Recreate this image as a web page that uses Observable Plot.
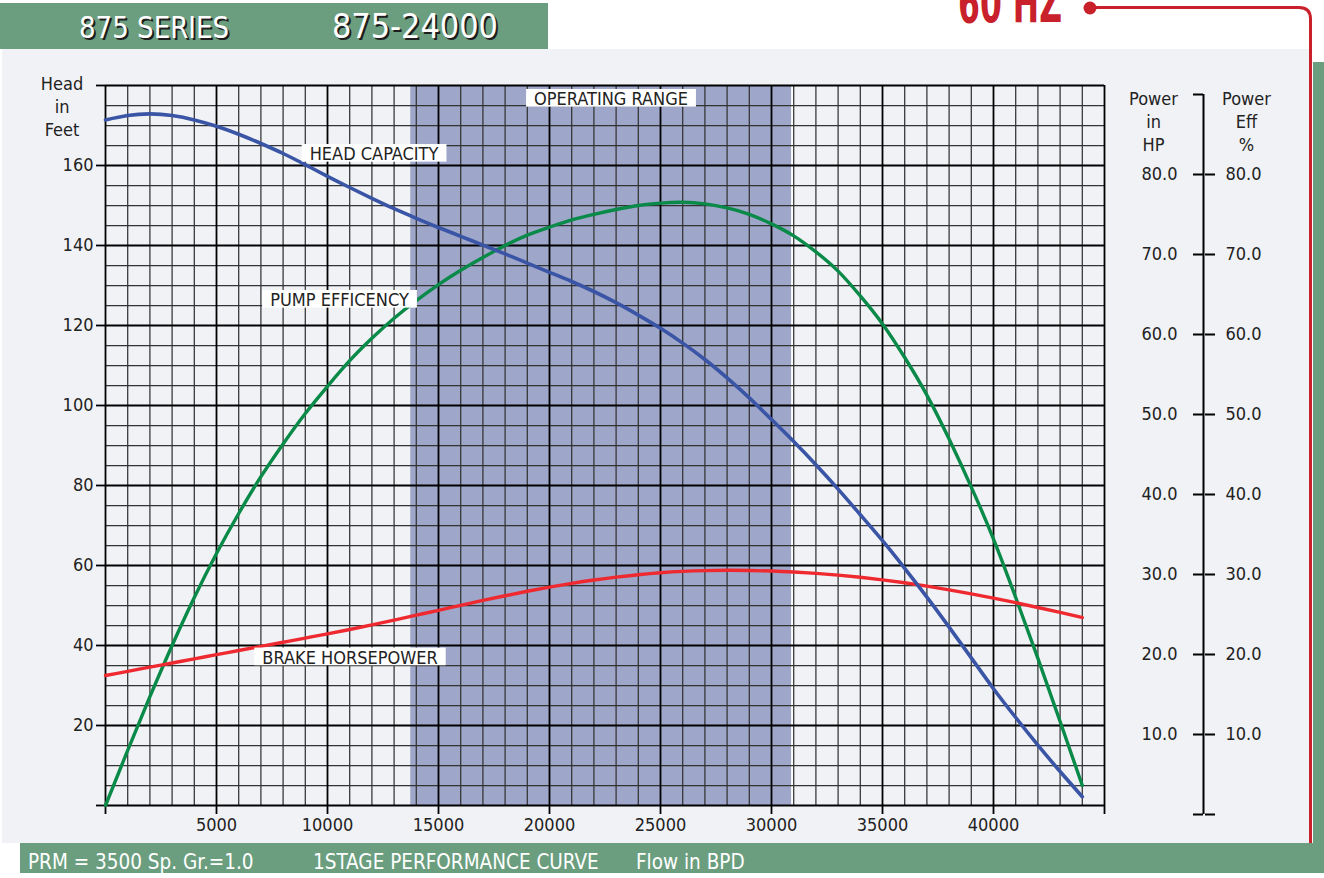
<!DOCTYPE html>
<html>
<head>
<meta charset="utf-8">
<script src="https://cdn.jsdelivr.net/npm/d3@7"></script>
<script src="https://cdn.jsdelivr.net/npm/@observablehq/plot@0.6"></script>
<style>
html, body { margin: 0; padding: 0; background: #ffffff; }
#root { position: relative; width: 1324px; height: 878px; overflow: hidden; font-family: "DejaVu Sans Condensed", "DejaVu Sans", sans-serif; }
#root > svg { position: absolute; }
</style>
</head>
<body>
<div id="root">
<svg id="deco" width="1324" height="878" style="left:0;top:0">
  <rect x="2" y="49" width="1308" height="794" fill="#f1f2f6"/>
  <rect x="0" y="3" width="548" height="46" fill="#6b9e7f"/>
  <rect x="1313" y="62" width="11" height="781" fill="#6b9e7f"/>
  <rect x="20" y="843" width="1304" height="30" fill="#6b9e7f"/>
  <path d="M1090 7.5 H1299 Q1310.5 7.5 1310.5 19 V843" stroke="#c9212b" stroke-width="3" fill="none"/>
  <circle cx="1090" cy="8" r="6.5" fill="#c9212b"/>
  <text x="958" y="22" fill="#c9212b" font-family="'DejaVu Sans Condensed','DejaVu Sans',sans-serif" font-weight="bold" font-size="56" textLength="104" lengthAdjust="spacingAndGlyphs">60 HZ</text>
  <g font-family="'DejaVu Sans Condensed','DejaVu Sans',sans-serif">
    <text x="81" y="39.5" fill="#1e1e1e" font-size="30" textLength="150" lengthAdjust="spacingAndGlyphs">875 SERIES</text>
    <text x="79" y="37.5" fill="#ffffff" font-size="30" textLength="150" lengthAdjust="spacingAndGlyphs">875 SERIES</text>
    <text x="334" y="39.5" fill="#1e1e1e" font-size="34" textLength="166" lengthAdjust="spacingAndGlyphs">875-24000</text>
    <text x="332" y="37.5" fill="#ffffff" font-size="34" textLength="166" lengthAdjust="spacingAndGlyphs">875-24000</text>
    <text x="28" y="868.5" fill="#ffffff" font-size="20.5">PRM = 3500 Sp. Gr.=1.0</text>
    <text x="313" y="868.5" fill="#ffffff" font-size="20.5">1STAGE PERFORMANCE CURVE</text>
    <text x="636" y="868.5" fill="#ffffff" font-size="20.5">Flow in BPD</text>
  </g>
</svg>
</div>
<script>
// ---- data ----
const flow = [0,1000,2000,3000,4000,5000,6000,7000,8000,9000,10000,11000,12000,13000,14000,15000,16000,17000,18000,19000,20000,21000,22000,23000,24000,25000,26000,27000,28000,29000,30000,31000,32000,33000,34000,35000,36000,37000,38000,39000,40000,41000,42000,43000,44000];
// head in feet
const head = [171.4,172.5,172.9,172.5,171.4,169.8,167.8,165.5,163.0,160.2,157.3,154.5,151.8,149.2,146.8,144.5,142.3,140.1,137.9,135.6,133.3,131.0,128.5,125.7,122.6,119.3,115.6,111.5,106.9,101.9,96.5,91.0,85.2,79.1,72.7,66.2,59.3,52.1,44.6,36.9,29.2,22.0,15.1,8.5,2.2];
// pump efficiency in %
const efficiency = [0,6.9,13.6,20.0,26.0,31.5,36.5,41.1,45.2,49.0,52.4,55.6,58.4,60.9,63.1,65.1,66.9,68.5,70.0,71.3,72.3,73.2,73.9,74.5,75.0,75.3,75.4,75.2,74.7,73.9,72.7,71.2,69.2,66.8,63.7,60.2,56.0,51.3,45.8,39.8,33.3,26.0,18.4,10.5,2.5];
// brake horsepower in HP
const power = [16.25,16.77,17.29,17.81,18.33,18.85,19.37,19.89,20.41,20.93,21.45,22.0,22.58,23.18,23.79,24.4,25.02,25.63,26.22,26.78,27.3,27.77,28.19,28.55,28.85,29.09,29.26,29.36,29.4,29.38,29.31,29.19,29.02,28.8,28.53,28.21,27.84,27.42,26.96,26.46,25.92,25.35,24.75,24.13,23.49];
const operatingRange = [13750, 30900];
const xTickLabels = [5000,10000,15000,20000,25000,30000,35000,40000];
const yTickLabels = [20,40,60,80,100,120,140,160];
const rightTickLabels = [10,20,30,40,50,60,70,80];
const curveLabels = [
  {text: "OPERATING RANGE", flow: 22770, head: 176.45},
  {text: "HEAD CAPACITY", flow: 12095, head: 162.7},
  {text: "PUMP EFFICENCY", flow: 10540, head: 126.2},
  {text: "BRAKE HORSEPOWER", flow: 11014, head: 36.8}
];

// ---- build ----
const rows = flow.map((q, i) => ({flow: q, head: head[i], eff: efficiency[i], hp: power[i]}));
const xMax = 45000, yMax = 180, rMax = 90;
const gridX = d3.range(0, xMax + 1, 1000);
const gridY = d3.range(0, yMax + 1, 5);
const minorX = gridX.filter(d => d % 5000 !== 0), majorX = gridX.filter(d => d % 5000 === 0);
const minorY = gridY.filter(d => d % 20 !== 0), majorY = gridY.filter(d => d % 20 === 0);
const font = "'DejaVu Sans Condensed','DejaVu Sans',sans-serif";

const main = Plot.plot({
  width: 1310, height: 797,
  marginLeft: 105, marginRight: 206, marginTop: 37, marginBottom: 40,
  x: {domain: [0, xMax]},
  y: {domain: [0, yMax]},
  style: {background: "transparent", fontFamily: font, fontSize: "18px", color: "#222", overflow: "visible"},
  marks: [
    Plot.rect([operatingRange], {x1: d => d[0], x2: d => d[1], fill: "#9ea6c9"}),
    Plot.ruleX([operatingRange[1]], {stroke: "#ffffff", strokeWidth: 1.5, dx: 1}),
    Plot.ruleX(minorX, {stroke: "#333333", strokeWidth: 1.25}),
    Plot.ruleY(minorY, {stroke: "#333333", strokeWidth: 1.25}),
    Plot.ruleX(majorX, {stroke: "#000", strokeWidth: 1.8}),
    Plot.ruleY(majorY, {stroke: "#000", strokeWidth: 1.8}),
    Plot.axisX({ticks: [0, ...xTickLabels, xMax], tickSize: 9, tickPadding: 4, label: null,
      tickFormat: d => xTickLabels.includes(d) ? String(d) : "", stroke: "#000", strokeWidth: 1.8, fill: "#222"}),
    Plot.axisY({ticks: [0, ...yTickLabels, yMax], tickSize: 9, tickPadding: 3, label: null,
      tickFormat: d => yTickLabels.includes(d) ? String(d) : "", stroke: "#000", strokeWidth: 1.8, fill: "#222"}),
    Plot.line(rows, {x: "flow", y: d => d.eff * 2, stroke: "#0a8a48", strokeWidth: 3.4, curve: "natural"}),
    Plot.line(rows, {x: "flow", y: d => d.hp * 2, stroke: "#ee2a30", strokeWidth: 3.4, curve: "natural"}),
    Plot.line(rows, {x: "flow", y: "head", stroke: "#3a55a5", strokeWidth: 3.6, curve: "natural"}),
    Plot.text(curveLabels, {x: "flow", y: "head", text: "text", fill: "#222"}),
    Plot.text(["Head\nin\nFeet"], {text: d => d, frameAnchor: "top-left", textAnchor: "middle", lineAnchor: "middle", dx: -43.5, dy: 20, lineHeight: 1.28, fill: "#222"})
  ]
});
main.style.left = "0px";
main.style.top = "48px";
document.getElementById("root").appendChild(main);

// white boxes behind the curve labels
(function () {
  const ns = "http://www.w3.org/2000/svg";
  const sr = main.getBoundingClientRect();
  const names = curveLabels.map(d => d.text);
  const texts = Array.from(main.querySelectorAll("text")).filter(t => names.includes(t.textContent));
  if (!texts.length) return;
  let top = texts[0];
  while (top.parentNode && top.parentNode !== main) top = top.parentNode;
  const g = document.createElementNS(ns, "g");
  texts.forEach(t => {
    const r = t.getBoundingClientRect();
    const rect = document.createElementNS(ns, "rect");
    rect.setAttribute("x", r.left - sr.left - 8);
    rect.setAttribute("y", r.top - sr.top + 0.5);
    rect.setAttribute("width", r.width + 16);
    rect.setAttribute("height", r.height - 3.3);
    rect.setAttribute("fill", "#ffffff");
    g.appendChild(rect);
  });
  main.insertBefore(g, top);
})();

const right = Plot.plot({
  width: 200, height: 797,
  marginLeft: 103, marginRight: 96, marginTop: 46, marginBottom: 31,
  x: {domain: [0, 1], axis: null},
  y: {domain: [0, rMax], axis: null},
  style: {background: "transparent", fontFamily: font, fontSize: "18px", color: "#222", overflow: "visible"},
  marks: [
    Plot.ruleX([0], {y1: 0, y2: rMax, stroke: "#000", strokeWidth: 2}),
    Plot.axisY({anchor: "left", ticks: [0, ...rightTickLabels, rMax], tickSize: 10, tickPadding: 16, label: null,
      tickFormat: d => rightTickLabels.includes(d) ? d.toFixed(1) : "", stroke: "#000", strokeWidth: 2, fill: "#222"}),
    Plot.axisY({anchor: "right", ticks: [0, ...rightTickLabels], tickSize: 10, tickPadding: 11, label: null,
      tickFormat: d => rightTickLabels.includes(d) ? d.toFixed(1) : "", stroke: "#000", strokeWidth: 2, fill: "#222"}),
    Plot.text(["Power\nin\nHP"], {text: d => d, frameAnchor: "top-left", textAnchor: "middle", lineAnchor: "middle", dx: -50, dy: 26, lineHeight: 1.3, fill: "#222"}),
    Plot.text(["Power\nEff\n%"], {text: d => d, frameAnchor: "top-right", textAnchor: "middle", lineAnchor: "middle", dx: 42, dy: 26, lineHeight: 1.3, fill: "#222"})
  ]
});
right.style.left = "1100px";
right.style.top = "48px";
document.getElementById("root").appendChild(right);
</script>
</body>
</html>
